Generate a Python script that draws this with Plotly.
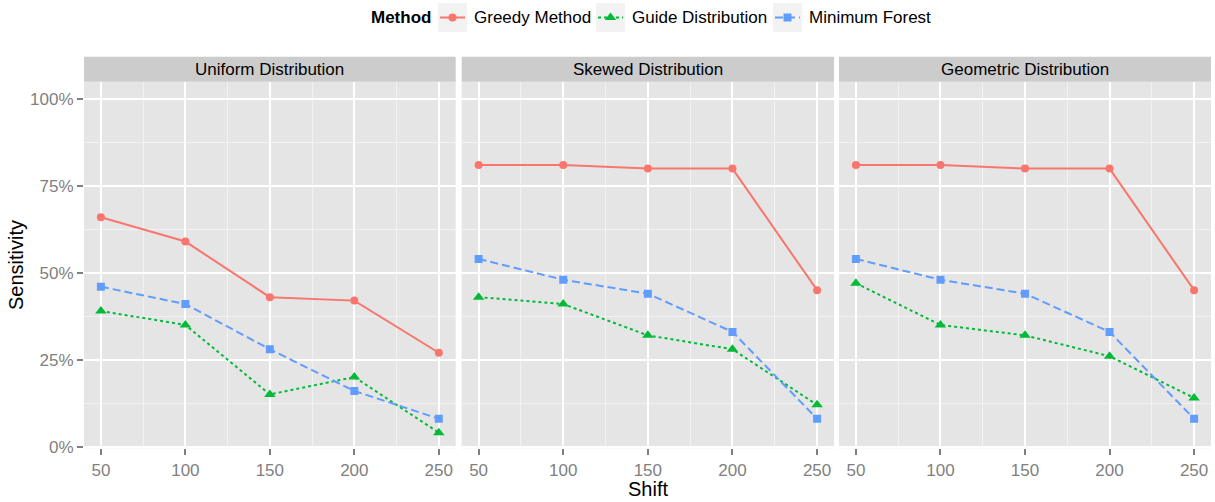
import plotly.graph_objects as go

# ---- data -------------------------------------------------------------
shift = [50, 100, 150, 200, 250]
panels = ["Uniform Distribution", "Skewed Distribution", "Geometric Distribution"]
methods = ["Greedy Method", "Guide Distribution", "Minimum Forest"]

uniform_greedy = [0.66, 0.59, 0.43, 0.42, 0.27]
uniform_guide = [0.39, 0.35, 0.15, 0.20, 0.04]
uniform_forest = [0.46, 0.41, 0.28, 0.16, 0.08]

skewed_greedy = [0.81, 0.81, 0.80, 0.80, 0.45]
skewed_guide = [0.43, 0.41, 0.32, 0.28, 0.12]
skewed_forest = [0.54, 0.48, 0.44, 0.33, 0.08]

geometric_greedy = [0.81, 0.81, 0.80, 0.80, 0.45]
geometric_guide = [0.47, 0.35, 0.32, 0.26, 0.14]
geometric_forest = [0.54, 0.48, 0.44, 0.33, 0.08]

y_ticks = [0, 0.25, 0.5, 0.75, 1.0]
y_tick_text = ["0%", "25%", "50%", "75%", "100%"]

series = [
    [uniform_greedy, uniform_guide, uniform_forest],
    [skewed_greedy, skewed_guide, skewed_forest],
    [geometric_greedy, geometric_guide, geometric_forest],
]

# ---- styling ----------------------------------------------------------
W, H = 1215, 502          # layout grid in pixels
FIG_H = 510               # rendered figure height
FONT = "Liberation Sans, Arial, Helvetica, sans-serif"
colors = ["#F8766D", "#00BA38", "#619CFF"]
dashes = ["solid", "3px,3px", "8px,4px"]
symbols = ["circle", "triangle-up", "square"]
msizes = [8, 10, 8]
GREY_TXT = "#7F7F7F"


def px_x(v):
    return v / W


def px_y(v):
    return 1 - v / H


panel_x = [(84, 455.7), (461.7, 834), (839, 1211)]
plot_top, plot_bot = 81.7, 448.3
strip_top = 56.7

fig = go.Figure()
layout = dict(
    width=W, height=FIG_H,
    margin=dict(l=0, r=0, t=0, b=0),
    paper_bgcolor="white", plot_bgcolor="rgba(0,0,0,0)",
    showlegend=False, font=dict(family=FONT, size=17, color=GREY_TXT),
    hovermode=False,
)

shapes = []
annotations = []

for i, name in enumerate(panels):
    sfx = "" if i == 0 else str(i + 1)
    xa, ya = "x" + sfx, "y" + sfx
    x0, x1 = panel_x[i]
    layout["xaxis" + sfx] = dict(
        domain=[px_x(x0), px_x(x1)], anchor=ya, range=[40, 260],
        tickvals=shift, ticks="outside", ticklen=6, tickwidth=1.5,
        tickcolor=GREY_TXT, showgrid=True, gridcolor="white", gridwidth=2,
        zeroline=False, showline=False,
        tickfont=dict(family=FONT, size=17, color=GREY_TXT),
        minor=dict(tickvals=[75, 125, 175, 225], showgrid=True,
                   gridcolor="#F2F2F2", gridwidth=1, ticklen=0),
    )
    layout["yaxis" + sfx] = dict(
        domain=[px_y(plot_bot), px_y(plot_top)], anchor=xa,
        range=[-0.005, 1.05], tickvals=y_ticks, ticktext=y_tick_text,
        showticklabels=(i == 0), ticks="outside" if i == 0 else "",
        ticklen=6, tickwidth=1.5, tickcolor=GREY_TXT,
        showgrid=True, gridcolor="white", gridwidth=2,
        zeroline=False, showline=False,
        tickfont=dict(family=FONT, size=17, color=GREY_TXT),
        minor=dict(tickvals=[0.125, 0.375, 0.625, 0.875], showgrid=True,
                   gridcolor="#F2F2F2", gridwidth=1, ticklen=0),
    )
    # panel background
    shapes.append(dict(type="rect", xref=xa + " domain", yref=ya + " domain",
                       x0=0, x1=1, y0=0, y1=1, fillcolor="#E5E5E5",
                       line=dict(width=0), layer="below"))
    # facet strip
    shapes.append(dict(type="rect", xref="paper", yref="paper",
                       x0=px_x(x0), x1=px_x(x1), y0=px_y(plot_top), y1=px_y(strip_top),
                       fillcolor="#CCCCCC", line=dict(width=0), layer="below"))
    annotations.append(dict(text=name, xref="paper", yref="paper",
                            x=px_x((x0 + x1) / 2), y=px_y((strip_top + plot_top) / 2),
                            xanchor="center", yanchor="middle", showarrow=False,
                            font=dict(family=FONT, size=17, color="black")))
    for j, m in enumerate(methods):
        fig.add_trace(go.Scatter(
            x=shift, y=series[i][j], xaxis=xa, yaxis=ya, mode="lines+markers",
            name=m, line=dict(color=colors[j], width=2, dash=dashes[j]),
            marker=dict(symbol=symbols[j], size=msizes[j], color=colors[j],
                        line=dict(width=0)),
        ))

# ---- legend, drawn on its own pixel-scaled axis ------------------------
layout["xaxis4"] = dict(domain=[0, 1], range=[0, W], anchor="y4", visible=False)
layout["yaxis4"] = dict(domain=[px_y(40), 1], range=[40, 0], anchor="x4", visible=False)

legend_y = 17.5
key_left = [438, 596, 773]
key_w, key_top, key_bot = 29, 3, 32
annotations.append(dict(text="<b>Method</b>", xref="x4", yref="y4", x=369, y=legend_y,
                        xanchor="left", yanchor="middle", showarrow=False,
                        font=dict(family=FONT, size=17, color="black")))
for j, m in enumerate(methods):
    kx = key_left[j]
    shapes.append(dict(type="rect", xref="x4", yref="y4", x0=kx, x1=kx + key_w,
                       y0=key_top, y1=key_bot, fillcolor="#F2F2F2",
                       line=dict(width=0), layer="below"))
    fig.add_trace(go.Scatter(
        x=[kx + 2, kx + key_w - 2], y=[legend_y, legend_y], xaxis="x4", yaxis="y4",
        mode="lines", line=dict(color=colors[j], width=2, dash=dashes[j]),
    ))
    fig.add_trace(go.Scatter(
        x=[kx + key_w / 2], y=[legend_y], xaxis="x4", yaxis="y4", mode="markers",
        marker=dict(symbol=symbols[j], size=msizes[j], color=colors[j], line=dict(width=0)),
    ))
    annotations.append(dict(text=m, xref="x4", yref="y4", x=kx + key_w + 5, y=legend_y,
                            xanchor="left", yanchor="middle", showarrow=False,
                            font=dict(family=FONT, size=17, color="black")))

# ---- axis titles --------------------------------------------------------
annotations.append(dict(text="Shift", xref="paper", yref="paper", x=px_x(648), y=px_y(489),
                        xanchor="center", yanchor="middle", showarrow=False,
                        font=dict(family=FONT, size=20, color="black")))
annotations.append(dict(text="Sensitivity", xref="paper", yref="paper", x=px_x(16), y=px_y(265),
                        xanchor="center", yanchor="middle", showarrow=False, textangle=-90,
                        font=dict(family=FONT, size=20, color="black")))

layout["shapes"] = shapes
layout["annotations"] = annotations
fig.update_layout(**layout)
fig.write_html("out.html")
